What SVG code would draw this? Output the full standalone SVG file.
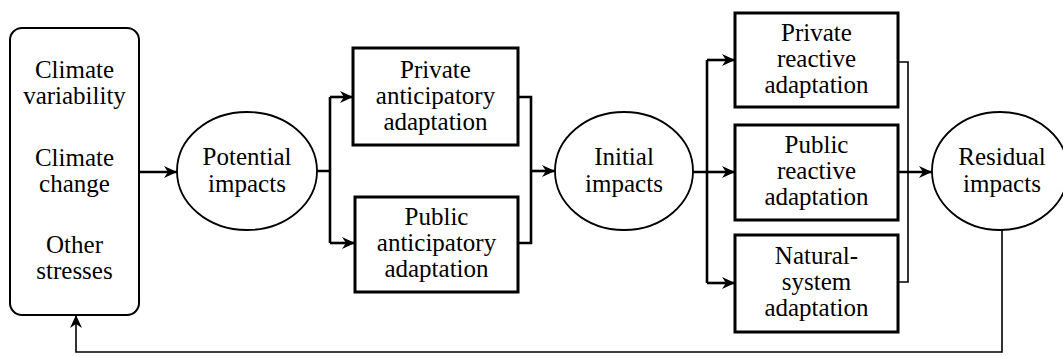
<svg xmlns="http://www.w3.org/2000/svg" width="1063" height="356" viewBox="0 0 1063 356">
<style>
text{font-size:25px;fill:#000;text-anchor:middle}
.box{fill:#fff;stroke:#000;stroke-width:3}
.ell{fill:#fff;stroke:#000;stroke-width:1.8}
.src{fill:#fff;stroke:#000;stroke-width:2}
.c{fill:none;stroke:#000;stroke-width:2.6}
.t{fill:none;stroke:#000;stroke-width:1.6}
.a{marker-end:url(#ah)}
</style>
<defs>
<marker id="ah" markerUnits="userSpaceOnUse" markerWidth="14" markerHeight="14" viewBox="0 0 14 14" refX="13" refY="7" orient="auto">
<path d="M0,1 L13,7 L0,13 L4,7 z" fill="#000"/>
</marker>
</defs>
<rect width="1063" height="356" fill="#fff"/>
<g id="connectors">
<path class="c a" d="M139,172 H177"/>
<path class="c" d="M317,171 H330 M330,97 V243"/>
<path class="c a" d="M330,97 H353"/>
<path class="c a" d="M330,243 H355"/>
<path class="c" d="M518,97 H531 V243 H518"/>
<path class="c a" d="M531,171 H555"/>
<path class="c" d="M693,172 H707 M707,60 V283"/>
<path class="c a" d="M707,60 H735"/>
<path class="c a" d="M707,172 H735"/>
<path class="c a" d="M707,283 H735"/>
<path class="t" d="M898,62 H908 V282 H898"/>
<path class="c a" d="M898,172 H932"/>
<path class="t a" d="M1002,230 V352 H76 V315"/>
</g>
<g id="drivers">
<rect class="src" x="10" y="28" width="129" height="287" rx="12"/>
<text x="74.5" y="78" font-family="Liberation Serif" style="font-family:'Liberation Serif'">Climate</text>
<text x="74.5" y="104" font-family="Liberation Serif" style="font-family:'Liberation Serif'">variability</text>
<text x="74.5" y="166" font-family="Liberation Serif" style="font-family:'Liberation Serif'">Climate</text>
<text x="74.5" y="192" font-family="Liberation Serif" style="font-family:'Liberation Serif'">change</text>
<text x="74.5" y="253" font-family="Liberation Serif" style="font-family:'Liberation Serif'">Other</text>
<text x="74.5" y="279" font-family="Liberation Serif" style="font-family:'Liberation Serif'">stresses</text>
</g>
<g id="potential">
<ellipse class="ell" cx="247" cy="171" rx="70" ry="59"/>
<text x="247" y="165" font-family="Liberation Serif" style="font-family:'Liberation Serif'">Potential</text>
<text x="247" y="192" font-family="Liberation Serif" style="font-family:'Liberation Serif'">impacts</text>
</g>
<g id="private-anticipatory">
<rect class="box" x="353" y="48" width="165" height="97"/>
<text x="435.5" y="78" font-family="Liberation Serif" style="font-family:'Liberation Serif'">Private</text>
<text x="435.5" y="104" font-family="Liberation Serif" style="font-family:'Liberation Serif'">anticipatory</text>
<text x="435.5" y="130" font-family="Liberation Serif" style="font-family:'Liberation Serif'">adaptation</text>
</g>
<g id="public-anticipatory">
<rect class="box" x="355" y="197" width="163" height="95"/>
<text x="436.5" y="225" font-family="Liberation Serif" style="font-family:'Liberation Serif'">Public</text>
<text x="436.5" y="251" font-family="Liberation Serif" style="font-family:'Liberation Serif'">anticipatory</text>
<text x="436.5" y="277" font-family="Liberation Serif" style="font-family:'Liberation Serif'">adaptation</text>
</g>
<g id="initial">
<ellipse class="ell" cx="624" cy="171" rx="69" ry="59"/>
<text x="624" y="165" font-family="Liberation Serif" style="font-family:'Liberation Serif'">Initial</text>
<text x="624" y="192" font-family="Liberation Serif" style="font-family:'Liberation Serif'">impacts</text>
</g>
<g id="private-reactive">
<rect class="box" x="735" y="13" width="163" height="94"/>
<text x="816.5" y="41" font-family="Liberation Serif" style="font-family:'Liberation Serif'">Private</text>
<text x="816.5" y="67" font-family="Liberation Serif" style="font-family:'Liberation Serif'">reactive</text>
<text x="816.5" y="93" font-family="Liberation Serif" style="font-family:'Liberation Serif'">adaptation</text>
</g>
<g id="public-reactive">
<rect class="box" x="735" y="125" width="163" height="95"/>
<text x="816.5" y="153" font-family="Liberation Serif" style="font-family:'Liberation Serif'">Public</text>
<text x="816.5" y="179" font-family="Liberation Serif" style="font-family:'Liberation Serif'">reactive</text>
<text x="816.5" y="205" font-family="Liberation Serif" style="font-family:'Liberation Serif'">adaptation</text>
</g>
<g id="natural-system">
<rect class="box" x="735" y="235" width="163" height="97"/>
<text x="816.5" y="264" font-family="Liberation Serif" style="font-family:'Liberation Serif'">Natural-</text>
<text x="816.5" y="290" font-family="Liberation Serif" style="font-family:'Liberation Serif'">system</text>
<text x="816.5" y="316" font-family="Liberation Serif" style="font-family:'Liberation Serif'">adaptation</text>
</g>
<g id="residual">
<ellipse class="ell" cx="1000" cy="171" rx="68" ry="59"/>
<text x="1002" y="165" font-family="Liberation Serif" style="font-family:'Liberation Serif'">Residual</text>
<text x="1002" y="192" font-family="Liberation Serif" style="font-family:'Liberation Serif'">impacts</text>
</g>
</svg>
